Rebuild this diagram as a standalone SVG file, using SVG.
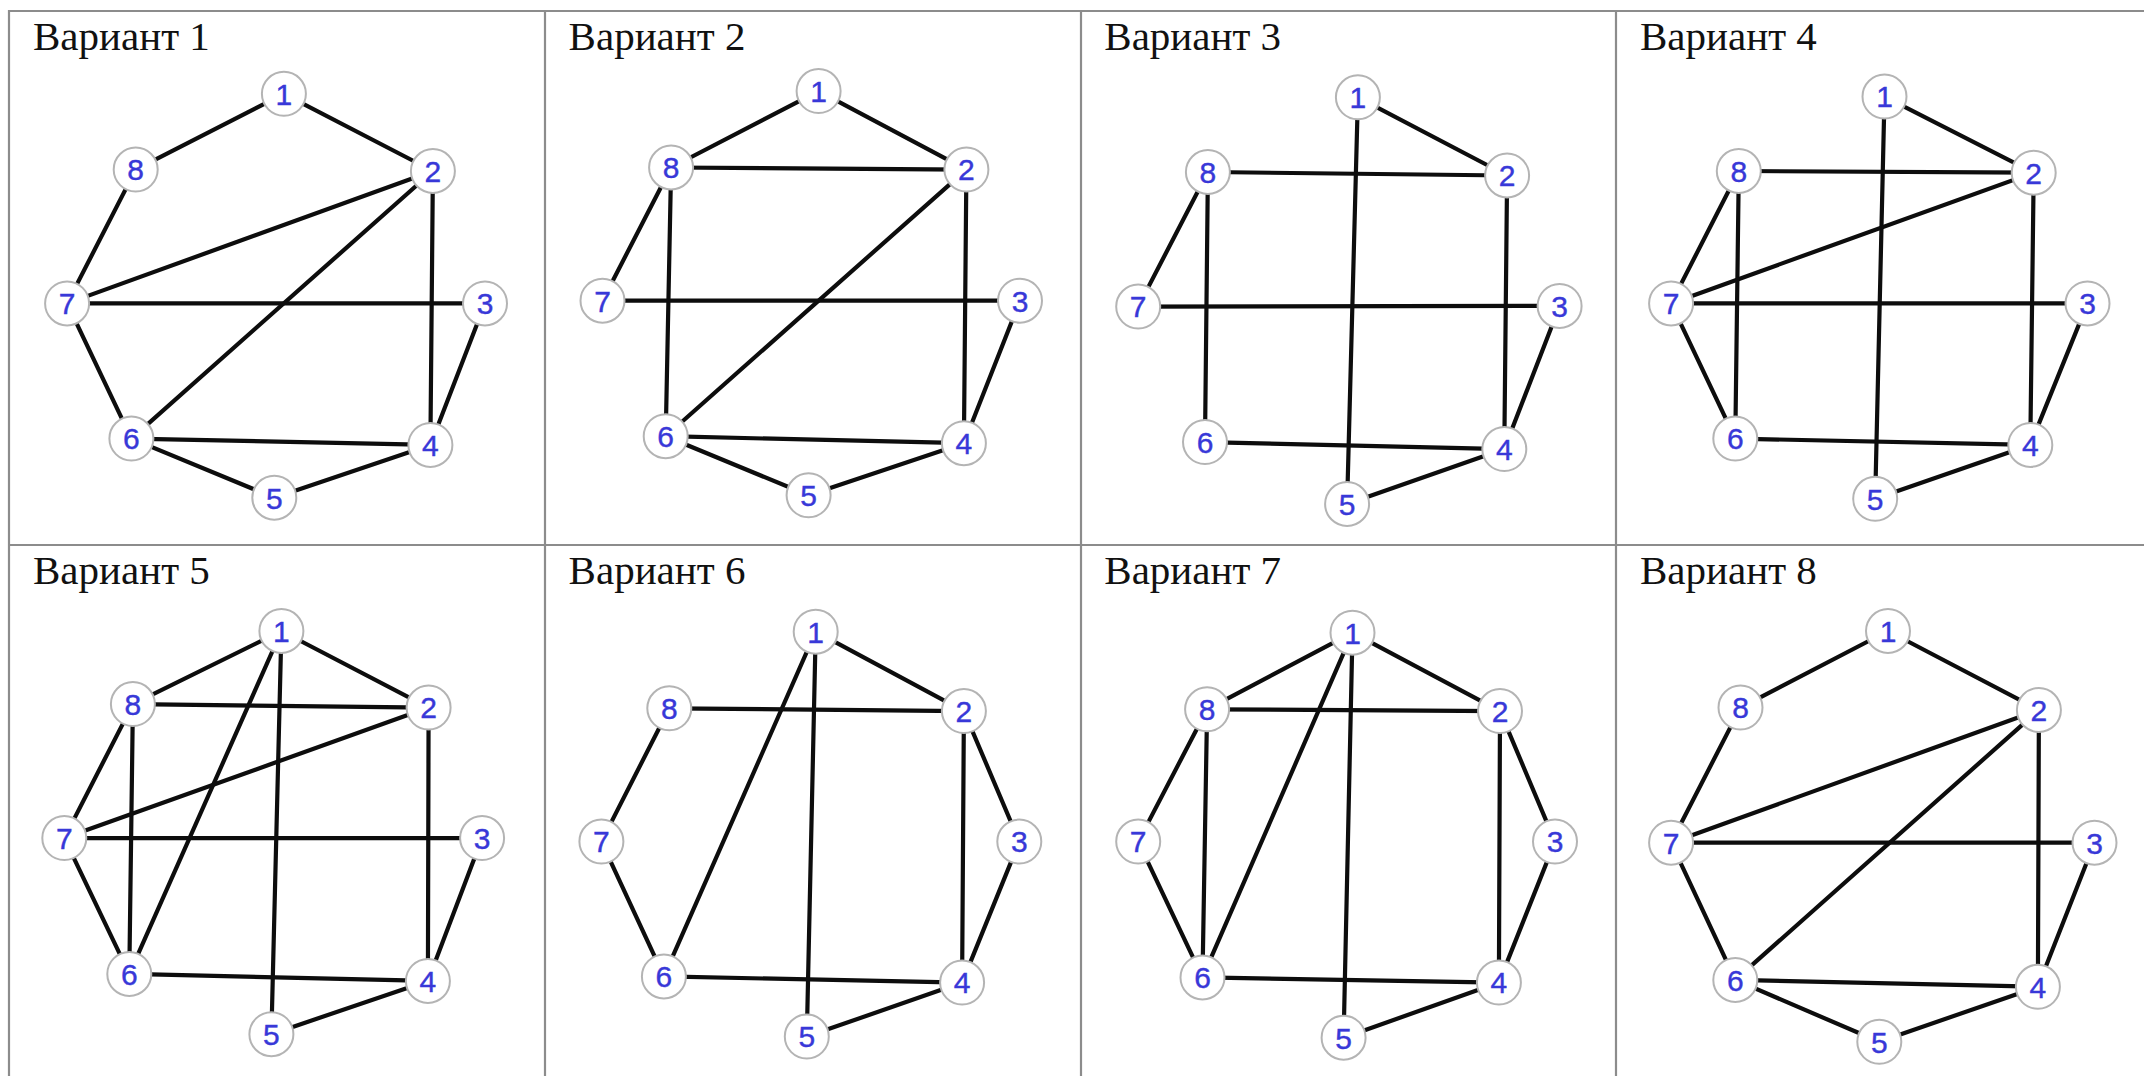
<svg xmlns="http://www.w3.org/2000/svg" width="2144" height="1076" viewBox="0 0 2144 1076">
<style>
.bg{fill:#ffffff}
.grid{stroke:#8c8c8c;stroke-width:2.2;fill:none}
.title{font-family:"Liberation Serif","Times New Roman",serif;font-size:41px;fill:#111111}
.e{stroke:#0d0d0d;stroke-width:4.2;stroke-linecap:round}
.n circle{fill:#ffffff;stroke:#b4b4b4;stroke-width:2}
.n text{font-family:"Liberation Sans",Arial,sans-serif;font-size:30px;fill:#3838d8;text-anchor:middle;stroke:#3838d8;stroke-width:0.4}
</style>
<rect class="bg" x="0" y="0" width="2144" height="1076"/>
<g id="table">
<path class="grid" d="M9 1076 V11 H2144 M545 11 V1076 M1081 11 V1076 M1616 11 V1076 M9 545 H2144"/>
</g>

<!-- Вариант 1 -->
<g id="v1">
<text class="title" x="33" y="50">Вариант 1</text>
<g id="v1-edges">
<line class="e" x1="283.9" y1="93.8" x2="135.7" y2="169.6"/>
<line class="e" x1="283.9" y1="93.8" x2="432.9" y2="171"/>
<line class="e" x1="135.7" y1="169.6" x2="67.1" y2="303.4"/>
<line class="e" x1="432.9" y1="171" x2="67.1" y2="303.4"/>
<line class="e" x1="432.9" y1="171" x2="131.4" y2="438.6"/>
<line class="e" x1="432.9" y1="171" x2="430.4" y2="444.9"/>
<line class="e" x1="67.1" y1="303.4" x2="485" y2="303.4"/>
<line class="e" x1="67.1" y1="303.4" x2="131.4" y2="438.6"/>
<line class="e" x1="131.4" y1="438.6" x2="430.4" y2="444.9"/>
<line class="e" x1="131.4" y1="438.6" x2="274.3" y2="497.7"/>
<line class="e" x1="274.3" y1="497.7" x2="430.4" y2="444.9"/>
<line class="e" x1="485" y1="303.4" x2="430.4" y2="444.9"/>
</g>
<g id="v1-n1" class="n"><circle cx="283.9" cy="93.8" r="22"/><text x="283.9" y="104.6">1</text></g>
<g id="v1-n2" class="n"><circle cx="432.9" cy="171" r="22"/><text x="432.9" y="181.8">2</text></g>
<g id="v1-n3" class="n"><circle cx="485" cy="303.4" r="22"/><text x="485" y="314.2">3</text></g>
<g id="v1-n4" class="n"><circle cx="430.4" cy="444.9" r="22"/><text x="430.4" y="455.7">4</text></g>
<g id="v1-n5" class="n"><circle cx="274.3" cy="497.7" r="22"/><text x="274.3" y="508.5">5</text></g>
<g id="v1-n6" class="n"><circle cx="131.4" cy="438.6" r="22"/><text x="131.4" y="449.4">6</text></g>
<g id="v1-n7" class="n"><circle cx="67.1" cy="303.4" r="22"/><text x="67.1" y="314.2">7</text></g>
<g id="v1-n8" class="n"><circle cx="135.7" cy="169.6" r="22"/><text x="135.7" y="180.4">8</text></g>
</g>

<!-- Вариант 2 -->
<g id="v2">
<text class="title" x="568.6" y="50">Вариант 2</text>
<g id="v2-edges">
<line class="e" x1="818.6" y1="91.1" x2="671.1" y2="167.5"/>
<line class="e" x1="818.6" y1="91.1" x2="966.4" y2="169.6"/>
<line class="e" x1="671.1" y1="167.5" x2="966.4" y2="169.6"/>
<line class="e" x1="671.1" y1="167.5" x2="602.5" y2="300.7"/>
<line class="e" x1="671.1" y1="167.5" x2="665.7" y2="436.2"/>
<line class="e" x1="966.4" y1="169.6" x2="665.7" y2="436.2"/>
<line class="e" x1="966.4" y1="169.6" x2="963.9" y2="443.2"/>
<line class="e" x1="602.5" y1="300.7" x2="1020" y2="300.7"/>
<line class="e" x1="1020" y1="300.7" x2="963.9" y2="443.2"/>
<line class="e" x1="665.7" y1="436.2" x2="963.9" y2="443.2"/>
<line class="e" x1="665.7" y1="436.2" x2="808.6" y2="495.3"/>
<line class="e" x1="808.6" y1="495.3" x2="963.9" y2="443.2"/>
</g>
<g id="v2-n1" class="n"><circle cx="818.6" cy="91.1" r="22"/><text x="818.6" y="101.9">1</text></g>
<g id="v2-n2" class="n"><circle cx="966.4" cy="169.6" r="22"/><text x="966.4" y="180.4">2</text></g>
<g id="v2-n3" class="n"><circle cx="1020" cy="300.7" r="22"/><text x="1020" y="311.5">3</text></g>
<g id="v2-n4" class="n"><circle cx="963.9" cy="443.2" r="22"/><text x="963.9" y="454">4</text></g>
<g id="v2-n5" class="n"><circle cx="808.6" cy="495.3" r="22"/><text x="808.6" y="506.1">5</text></g>
<g id="v2-n6" class="n"><circle cx="665.7" cy="436.2" r="22"/><text x="665.7" y="447">6</text></g>
<g id="v2-n7" class="n"><circle cx="602.5" cy="300.7" r="22"/><text x="602.5" y="311.5">7</text></g>
<g id="v2-n8" class="n"><circle cx="671.1" cy="167.5" r="22"/><text x="671.1" y="178.3">8</text></g>
</g>

<!-- Вариант 3 -->
<g id="v3">
<text class="title" x="1104.3" y="50">Вариант 3</text>
<g id="v3-edges">
<line class="e" x1="1357.9" y1="97.3" x2="1507.1" y2="175.5"/>
<line class="e" x1="1357.9" y1="97.3" x2="1347.1" y2="504"/>
<line class="e" x1="1207.9" y1="172" x2="1507.1" y2="175.5"/>
<line class="e" x1="1207.9" y1="172" x2="1138.2" y2="306.6"/>
<line class="e" x1="1207.9" y1="172" x2="1205" y2="442.1"/>
<line class="e" x1="1507.1" y1="175.5" x2="1504.3" y2="449.1"/>
<line class="e" x1="1138.2" y1="306.6" x2="1559.6" y2="305.9"/>
<line class="e" x1="1559.6" y1="305.9" x2="1504.3" y2="449.1"/>
<line class="e" x1="1205" y1="442.1" x2="1504.3" y2="449.1"/>
<line class="e" x1="1347.1" y1="504" x2="1504.3" y2="449.1"/>
</g>
<g id="v3-n1" class="n"><circle cx="1357.9" cy="97.3" r="22"/><text x="1357.9" y="108.1">1</text></g>
<g id="v3-n2" class="n"><circle cx="1507.1" cy="175.5" r="22"/><text x="1507.1" y="186.3">2</text></g>
<g id="v3-n3" class="n"><circle cx="1559.6" cy="305.9" r="22"/><text x="1559.6" y="316.7">3</text></g>
<g id="v3-n4" class="n"><circle cx="1504.3" cy="449.1" r="22"/><text x="1504.3" y="459.9">4</text></g>
<g id="v3-n5" class="n"><circle cx="1347.1" cy="504" r="22"/><text x="1347.1" y="514.8">5</text></g>
<g id="v3-n6" class="n"><circle cx="1205" cy="442.1" r="22"/><text x="1205" y="452.9">6</text></g>
<g id="v3-n7" class="n"><circle cx="1138.2" cy="306.6" r="22"/><text x="1138.2" y="317.4">7</text></g>
<g id="v3-n8" class="n"><circle cx="1207.9" cy="172" r="22"/><text x="1207.9" y="182.8">8</text></g>
</g>

<!-- Вариант 4 -->
<g id="v4">
<text class="title" x="1640" y="50">Вариант 4</text>
<g id="v4-edges">
<line class="e" x1="1884.5" y1="96.6" x2="2033.7" y2="172.7"/>
<line class="e" x1="1884.5" y1="96.6" x2="1875.2" y2="498.8"/>
<line class="e" x1="1738.8" y1="171" x2="2033.7" y2="172.7"/>
<line class="e" x1="1738.8" y1="171" x2="1671.1" y2="303.4"/>
<line class="e" x1="1738.8" y1="171" x2="1735.3" y2="438.6"/>
<line class="e" x1="2033.7" y1="172.7" x2="1671.1" y2="303.4"/>
<line class="e" x1="2033.7" y1="172.7" x2="2030.3" y2="444.9"/>
<line class="e" x1="1671.1" y1="303.4" x2="2087.5" y2="303.4"/>
<line class="e" x1="1671.1" y1="303.4" x2="1735.3" y2="438.6"/>
<line class="e" x1="2087.5" y1="303.4" x2="2030.3" y2="444.9"/>
<line class="e" x1="1735.3" y1="438.6" x2="2030.3" y2="444.9"/>
<line class="e" x1="1875.2" y1="498.8" x2="2030.3" y2="444.9"/>
</g>
<g id="v4-n1" class="n"><circle cx="1884.5" cy="96.6" r="22"/><text x="1884.5" y="107.4">1</text></g>
<g id="v4-n2" class="n"><circle cx="2033.7" cy="172.7" r="22"/><text x="2033.7" y="183.5">2</text></g>
<g id="v4-n3" class="n"><circle cx="2087.5" cy="303.4" r="22"/><text x="2087.5" y="314.2">3</text></g>
<g id="v4-n4" class="n"><circle cx="2030.3" cy="444.9" r="22"/><text x="2030.3" y="455.7">4</text></g>
<g id="v4-n5" class="n"><circle cx="1875.2" cy="498.8" r="22"/><text x="1875.2" y="509.6">5</text></g>
<g id="v4-n6" class="n"><circle cx="1735.3" cy="438.6" r="22"/><text x="1735.3" y="449.4">6</text></g>
<g id="v4-n7" class="n"><circle cx="1671.1" cy="303.4" r="22"/><text x="1671.1" y="314.2">7</text></g>
<g id="v4-n8" class="n"><circle cx="1738.8" cy="171" r="22"/><text x="1738.8" y="181.8">8</text></g>
</g>

<!-- Вариант 5 -->
<g id="v5">
<text class="title" x="33" y="584">Вариант 5</text>
<g id="v5-edges">
<line class="e" x1="281.4" y1="631" x2="132.9" y2="704.1"/>
<line class="e" x1="281.4" y1="631" x2="428.6" y2="707.6"/>
<line class="e" x1="281.4" y1="631" x2="129.3" y2="973.9"/>
<line class="e" x1="281.4" y1="631" x2="271.4" y2="1034.2"/>
<line class="e" x1="132.9" y1="704.1" x2="428.6" y2="707.6"/>
<line class="e" x1="132.9" y1="704.1" x2="64.3" y2="838.1"/>
<line class="e" x1="132.9" y1="704.1" x2="129.3" y2="973.9"/>
<line class="e" x1="428.6" y1="707.6" x2="64.3" y2="838.1"/>
<line class="e" x1="428.6" y1="707.6" x2="427.9" y2="980.9"/>
<line class="e" x1="64.3" y1="838.1" x2="482.1" y2="838.1"/>
<line class="e" x1="64.3" y1="838.1" x2="129.3" y2="973.9"/>
<line class="e" x1="482.1" y1="838.1" x2="427.9" y2="980.9"/>
<line class="e" x1="129.3" y1="973.9" x2="427.9" y2="980.9"/>
<line class="e" x1="271.4" y1="1034.2" x2="427.9" y2="980.9"/>
</g>
<g id="v5-n1" class="n"><circle cx="281.4" cy="631" r="22"/><text x="281.4" y="641.8">1</text></g>
<g id="v5-n2" class="n"><circle cx="428.6" cy="707.6" r="22"/><text x="428.6" y="718.4">2</text></g>
<g id="v5-n3" class="n"><circle cx="482.1" cy="838.1" r="22"/><text x="482.1" y="848.9">3</text></g>
<g id="v5-n4" class="n"><circle cx="427.9" cy="980.9" r="22"/><text x="427.9" y="991.7">4</text></g>
<g id="v5-n5" class="n"><circle cx="271.4" cy="1034.2" r="22"/><text x="271.4" y="1045">5</text></g>
<g id="v5-n6" class="n"><circle cx="129.3" cy="973.9" r="22"/><text x="129.3" y="984.7">6</text></g>
<g id="v5-n7" class="n"><circle cx="64.3" cy="838.1" r="22"/><text x="64.3" y="848.9">7</text></g>
<g id="v5-n8" class="n"><circle cx="132.9" cy="704.1" r="22"/><text x="132.9" y="714.9">8</text></g>
</g>

<!-- Вариант 6 -->
<g id="v6">
<text class="title" x="568.6" y="584">Вариант 6</text>
<g id="v6-edges">
<line class="e" x1="815.7" y1="631.7" x2="963.9" y2="711.1"/>
<line class="e" x1="815.7" y1="631.7" x2="663.9" y2="976.4"/>
<line class="e" x1="815.7" y1="631.7" x2="806.8" y2="1036.6"/>
<line class="e" x1="669.3" y1="708.3" x2="963.9" y2="711.1"/>
<line class="e" x1="669.3" y1="708.3" x2="601.4" y2="841.6"/>
<line class="e" x1="601.4" y1="841.6" x2="663.9" y2="976.4"/>
<line class="e" x1="963.9" y1="711.1" x2="1019.3" y2="841.6"/>
<line class="e" x1="963.9" y1="711.1" x2="962.1" y2="982.6"/>
<line class="e" x1="1019.3" y1="841.6" x2="962.1" y2="982.6"/>
<line class="e" x1="663.9" y1="976.4" x2="962.1" y2="982.6"/>
<line class="e" x1="806.8" y1="1036.6" x2="962.1" y2="982.6"/>
</g>
<g id="v6-n1" class="n"><circle cx="815.7" cy="631.7" r="22"/><text x="815.7" y="642.5">1</text></g>
<g id="v6-n2" class="n"><circle cx="963.9" cy="711.1" r="22"/><text x="963.9" y="721.9">2</text></g>
<g id="v6-n3" class="n"><circle cx="1019.3" cy="841.6" r="22"/><text x="1019.3" y="852.4">3</text></g>
<g id="v6-n4" class="n"><circle cx="962.1" cy="982.6" r="22"/><text x="962.1" y="993.4">4</text></g>
<g id="v6-n5" class="n"><circle cx="806.8" cy="1036.6" r="22"/><text x="806.8" y="1047.4">5</text></g>
<g id="v6-n6" class="n"><circle cx="663.9" cy="976.4" r="22"/><text x="663.9" y="987.2">6</text></g>
<g id="v6-n7" class="n"><circle cx="601.4" cy="841.6" r="22"/><text x="601.4" y="852.4">7</text></g>
<g id="v6-n8" class="n"><circle cx="669.3" cy="708.3" r="22"/><text x="669.3" y="719.1">8</text></g>
</g>

<!-- Вариант 7 -->
<g id="v7">
<text class="title" x="1104.3" y="584">Вариант 7</text>
<g id="v7-edges">
<line class="e" x1="1352.5" y1="632.7" x2="1207.1" y2="709.3"/>
<line class="e" x1="1352.5" y1="632.7" x2="1500" y2="711.1"/>
<line class="e" x1="1352.5" y1="632.7" x2="1202.5" y2="977.4"/>
<line class="e" x1="1352.5" y1="632.7" x2="1343.6" y2="1037.7"/>
<line class="e" x1="1207.1" y1="709.3" x2="1500" y2="711.1"/>
<line class="e" x1="1207.1" y1="709.3" x2="1138.2" y2="841.6"/>
<line class="e" x1="1207.1" y1="709.3" x2="1202.5" y2="977.4"/>
<line class="e" x1="1138.2" y1="841.6" x2="1202.5" y2="977.4"/>
<line class="e" x1="1500" y1="711.1" x2="1555" y2="841.6"/>
<line class="e" x1="1500" y1="711.1" x2="1498.9" y2="982.6"/>
<line class="e" x1="1555" y1="841.6" x2="1498.9" y2="982.6"/>
<line class="e" x1="1202.5" y1="977.4" x2="1498.9" y2="982.6"/>
<line class="e" x1="1343.6" y1="1037.7" x2="1498.9" y2="982.6"/>
</g>
<g id="v7-n1" class="n"><circle cx="1352.5" cy="632.7" r="22"/><text x="1352.5" y="643.5">1</text></g>
<g id="v7-n2" class="n"><circle cx="1500" cy="711.1" r="22"/><text x="1500" y="721.9">2</text></g>
<g id="v7-n3" class="n"><circle cx="1555" cy="841.6" r="22"/><text x="1555" y="852.4">3</text></g>
<g id="v7-n4" class="n"><circle cx="1498.9" cy="982.6" r="22"/><text x="1498.9" y="993.4">4</text></g>
<g id="v7-n5" class="n"><circle cx="1343.6" cy="1037.7" r="22"/><text x="1343.6" y="1048.5">5</text></g>
<g id="v7-n6" class="n"><circle cx="1202.5" cy="977.4" r="22"/><text x="1202.5" y="988.2">6</text></g>
<g id="v7-n7" class="n"><circle cx="1138.2" cy="841.6" r="22"/><text x="1138.2" y="852.4">7</text></g>
<g id="v7-n8" class="n"><circle cx="1207.1" cy="709.3" r="22"/><text x="1207.1" y="720.1">8</text></g>
</g>

<!-- Вариант 8 -->
<g id="v8">
<text class="title" x="1640" y="584">Вариант 8</text>
<g id="v8-edges">
<line class="e" x1="1888" y1="631" x2="1740.5" y2="707.6"/>
<line class="e" x1="1888" y1="631" x2="2038.9" y2="710"/>
<line class="e" x1="1740.5" y1="707.6" x2="1671.1" y2="842.7"/>
<line class="e" x1="2038.9" y1="710" x2="1671.1" y2="842.7"/>
<line class="e" x1="2038.9" y1="710" x2="1735.3" y2="979.9"/>
<line class="e" x1="2038.9" y1="710" x2="2037.9" y2="986.8"/>
<line class="e" x1="1671.1" y1="842.7" x2="2094.5" y2="842.7"/>
<line class="e" x1="1671.1" y1="842.7" x2="1735.3" y2="979.9"/>
<line class="e" x1="2094.5" y1="842.7" x2="2037.9" y2="986.8"/>
<line class="e" x1="1735.3" y1="979.9" x2="2037.9" y2="986.8"/>
<line class="e" x1="1735.3" y1="979.9" x2="1879.3" y2="1041.8"/>
<line class="e" x1="1879.3" y1="1041.8" x2="2037.9" y2="986.8"/>
</g>
<g id="v8-n1" class="n"><circle cx="1888" cy="631" r="22"/><text x="1888" y="641.8">1</text></g>
<g id="v8-n2" class="n"><circle cx="2038.9" cy="710" r="22"/><text x="2038.9" y="720.8">2</text></g>
<g id="v8-n3" class="n"><circle cx="2094.5" cy="842.7" r="22"/><text x="2094.5" y="853.5">3</text></g>
<g id="v8-n4" class="n"><circle cx="2037.9" cy="986.8" r="22"/><text x="2037.9" y="997.6">4</text></g>
<g id="v8-n5" class="n"><circle cx="1879.3" cy="1041.8" r="22"/><text x="1879.3" y="1052.6">5</text></g>
<g id="v8-n6" class="n"><circle cx="1735.3" cy="979.9" r="22"/><text x="1735.3" y="990.7">6</text></g>
<g id="v8-n7" class="n"><circle cx="1671.1" cy="842.7" r="22"/><text x="1671.1" y="853.5">7</text></g>
<g id="v8-n8" class="n"><circle cx="1740.5" cy="707.6" r="22"/><text x="1740.5" y="718.3">8</text></g>
</g>
</svg>
